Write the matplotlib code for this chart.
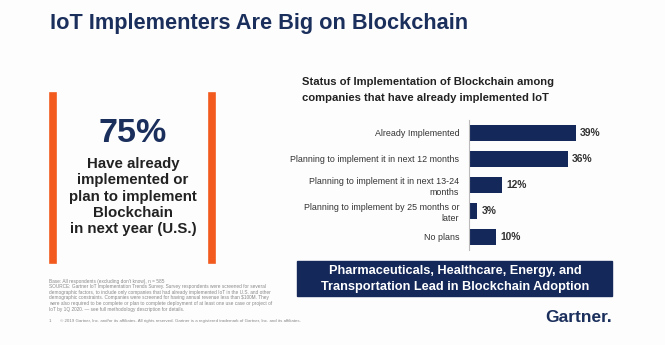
import matplotlib.pyplot as plt
import numpy as np

plt.rcParams['font.family'] = ['Liberation Sans', 'DejaVu Sans']

categories = ["Already Implemented",
              "Planning to implement it in next 12 months",
              "Planning to implement it in next 13-24\nmonths",
              "Planning to implement by 25 months or\nlater",
              "No plans"]
values = [39, 36, 12, 3, 10]
value_labels = ["39%", "36%", "12%", "3%", "10%"]

NAVY = "#14285a"
ORANGE = "#f25a1e"

fig = plt.figure(figsize=(6.65, 3.45), dpi=100)
fig.patch.set_facecolor("#fdfdfd")

def fx(px):
    return px / 665.0

def fy(py):
    return 1 - py / 345.0

# main title
fig.text(fx(50), fy(24), "IoT Implementers Are Big on Blockchain", fontsize=15.7,
         fontweight="heavy", color="#1b2f5c", va="center", ha="left")

# left callout with orange bars
for x in (53, 212):
    fig.add_artist(plt.Line2D([fx(x), fx(x)], [fy(96), fy(260)], color=ORANGE, lw=5.5))
fig.text(fx(133), fy(133), "75%", fontsize=24.5, fontweight="bold", color="#1b2f5c",
         ha="center", va="center")
callout = ["Have already", "implemented or", "plan to implement", "Blockchain",
           "in next year (U.S.)"]
for i, line in enumerate(callout):
    fig.text(fx(133), fy(164 + i * 16.3), line, fontsize=10.8, fontweight="bold",
             color="#222222", ha="center", va="center")

# chart title
fig.text(fx(302), fy(82), "Status of Implementation of Blockchain among", fontsize=8.1,
         fontweight="bold", color="#222222", ha="left", va="center")
fig.text(fx(302), fy(98), "companies that have already implemented IoT", fontsize=8.1,
         fontweight="bold", color="#222222", ha="left", va="center")

# bar chart
ax = fig.add_axes([fx(469), fy(250), fx(137), 130 / 345.0])
ax.set_facecolor("none")
y = np.arange(len(values))
ax.barh(y, values, height=0.58, color=NAVY)
ax.set_ylim(4.5, -0.5)
ax.set_xlim(0, 50)
ax.set_yticks(y)
ax.set_yticklabels(categories, fontsize=6.4, color="#333333", linespacing=1.3)
ax.tick_params(axis="y", length=0, pad=7)
ax.set_xticks([])
for s in ("top", "right", "bottom"):
    ax.spines[s].set_visible(False)
ax.spines["left"].set_color("#bbbbbb")
ax.spines["left"].set_linewidth(0.8)
for yi, v, lab in zip(y, values, value_labels):
    ax.text(v + 1.5, yi, lab, fontsize=7.4, fontweight="bold", color="#333333",
            va="center", ha="left")

# banner
fig.add_artist(plt.Rectangle((fx(297), fy(296)), fx(315), 35 / 345.0, color=NAVY))
fig.text(fx(455), fy(271), "Pharmaceuticals, Healthcare, Energy, and", fontsize=9.2,
         fontweight="bold", color="white", ha="center", va="center")
fig.text(fx(455), fy(287), "Transportation Lead in Blockchain Adoption", fontsize=9.2,
         fontweight="bold", color="white", ha="center", va="center")

# footnotes
notes = ["Base: All respondents (excluding don't know), n = 585",
         "SOURCE: Gartner IoT Implementation Trends Survey. Survey respondents were screened for several",
         "demographic factors, to include only companies that had already implemented IoT in the U.S. and other",
         "demographic constraints. Companies were screened for having annual revenue less than $100M. They",
         "were also required to be complete or plan to complete deployment of at least one use case or project of",
         "IoT by 1Q 2020. \u2014 see full methodology description for details."]
for i, line in enumerate(notes):
    fig.text(fx(49), fy(281 + i * 5.6), line, fontsize=3.4, color="#888888",
             ha="left", va="center")
fig.text(fx(49), fy(321), "1", fontsize=3.2, color="#888888", ha="left", va="center")
fig.text(fx(60), fy(321), "\u00a9 2019 Gartner, Inc. and/or its affiliates. All rights reserved. "
         "Gartner is a registered trademark of Gartner, Inc. and its affiliates.",
         fontsize=3.2, color="#888888", ha="left", va="center")

# logo
fig.text(fx(612), fy(317), "Gartner.", fontsize=12.5, fontweight="bold", color="#1b2f5c",
         ha="right", va="center")

fig.savefig("out.png", dpi=100, facecolor=fig.get_facecolor())
